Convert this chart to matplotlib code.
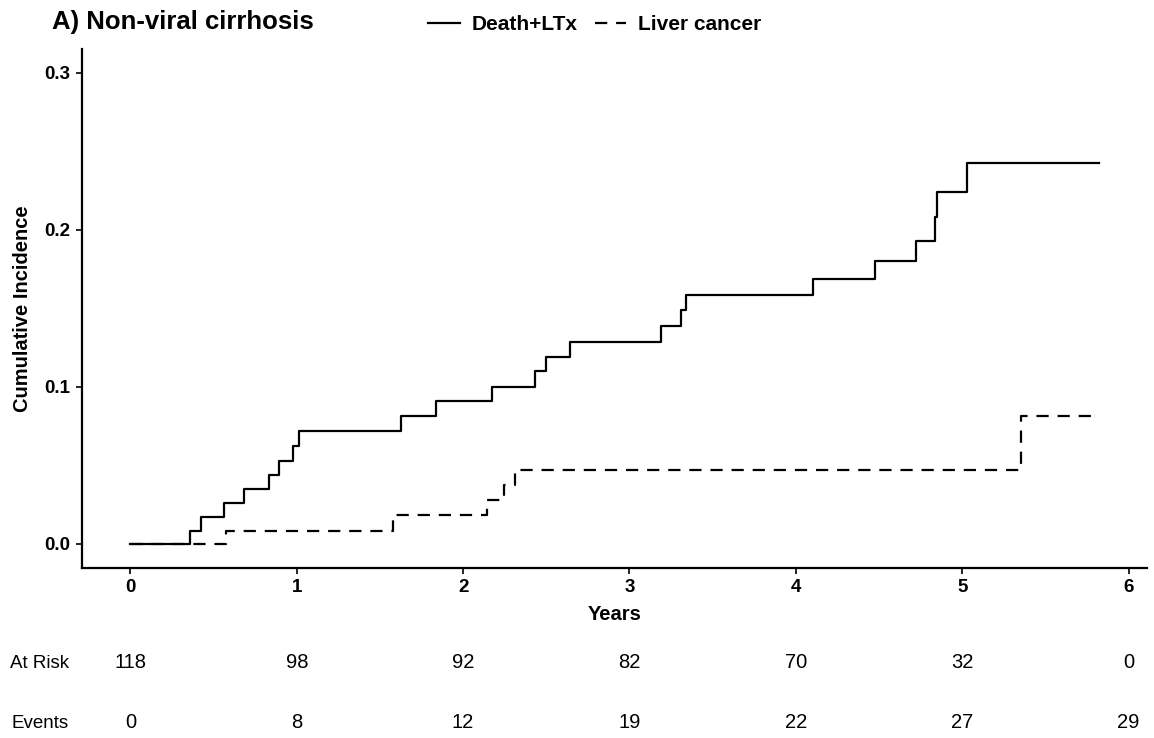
import numpy as np
import matplotlib.pyplot as plt
from matplotlib.transforms import blended_transform_factory

plt.rcParams['font.family'] = ['Liberation Sans', 'DejaVu Sans']

# ─── Data ────────────────────────────────────────────────────────────────
death_t = [0, 0.36, 0.426, 0.562, 0.68, 0.833, 0.893, 0.978, 1.012, 1.627, 1.837,
           2.172, 2.43, 2.5, 2.645, 3.19, 3.31, 3.34, 4.106, 4.474, 4.72, 4.835,
           4.847, 5.028, 5.82]
death_ci = [0, 0.0085, 0.0174, 0.0259, 0.035, 0.044, 0.053, 0.0625, 0.072, 0.0816,
            0.091, 0.1, 0.11, 0.119, 0.1286, 0.1386, 0.1487, 0.1587, 0.169, 0.18,
            0.193, 0.2085, 0.224, 0.2427, 0.2427]

cancer_t = [0, 0.576, 1.58, 2.146, 2.247, 2.313, 5.355, 5.82]
cancer_ci = [0, 0.0085, 0.0184, 0.028, 0.0373, 0.0469, 0.0814, 0.0814]

table_years = [0, 1, 2, 3, 4, 5, 6]
at_risk = [118, 98, 92, 82, 70, 32, 0]
events = [0, 8, 12, 19, 22, 27, 29]

# ─── Figure ──────────────────────────────────────────────────────────────
W, H = 1154, 738
fig = plt.figure(figsize=(W / 100, H / 100), dpi=100)
ax = fig.add_axes([82 / W, (H - 567.5) / H, (1147 - 82) / W, (567.5 - 49.3) / H])

lw = 1.6
ax.step(death_t, death_ci, where='post', color='black', lw=lw, label='Death+LTx')
ax.step(cancer_t, cancer_ci, where='post', color='black', lw=lw,
        dashes=(5.5, 4), label='Liver cancer')

ax.set_xlim(-0.291, 6.111)
ax.set_ylim(-0.015, 0.315)
ax.set_xticks(range(7))
ax.set_yticks([0.0, 0.1, 0.2, 0.3])
ax.set_yticklabels(['0.0', '0.1', '0.2', '0.3'])

for side in ['top', 'right']:
    ax.spines[side].set_visible(False)
for side in ['left', 'bottom']:
    ax.spines[side].set_linewidth(1.6)
ax.tick_params(length=4.5, width=1.2, pad=4, labelsize=13.5)
for lab in ax.get_xticklabels() + ax.get_yticklabels():
    lab.set_fontweight('bold')

ax.set_xlabel('Years', fontsize=14.5, fontweight='bold', labelpad=6)
ax.set_ylabel('Cumulative Incidence', fontsize=14.5, fontweight='bold', labelpad=9)

fig.text(52 / W, 1 - 22 / H, 'A) Non-viral cirrhosis', fontsize=18.5,
         fontweight='bold', ha='left', va='center')

leg = fig.legend(loc='center', bbox_to_anchor=(595 / W, 1 - 25 / H), ncol=2,
                 frameon=False, handlelength=1.5, handletextpad=0.6,
                 columnspacing=0.8, prop={'size': 15, 'weight': 'bold'})

# risk table below the plot
trans = blended_transform_factory(ax.transData, fig.transFigure)
for row_y, label, vals in [(1 - 663 / H, 'At Risk', at_risk),
                           (1 - 723 / H, 'Events', events)]:
    fig.text(40 / W, row_y, label, fontsize=13.5, ha='center', va='center')
    for yr, v in zip(table_years, vals):
        ax.text(yr, row_y, str(v), transform=trans, fontsize=14.5,
                ha='center', va='center', clip_on=False)

fig.savefig('out.png', dpi=100, facecolor='white')
